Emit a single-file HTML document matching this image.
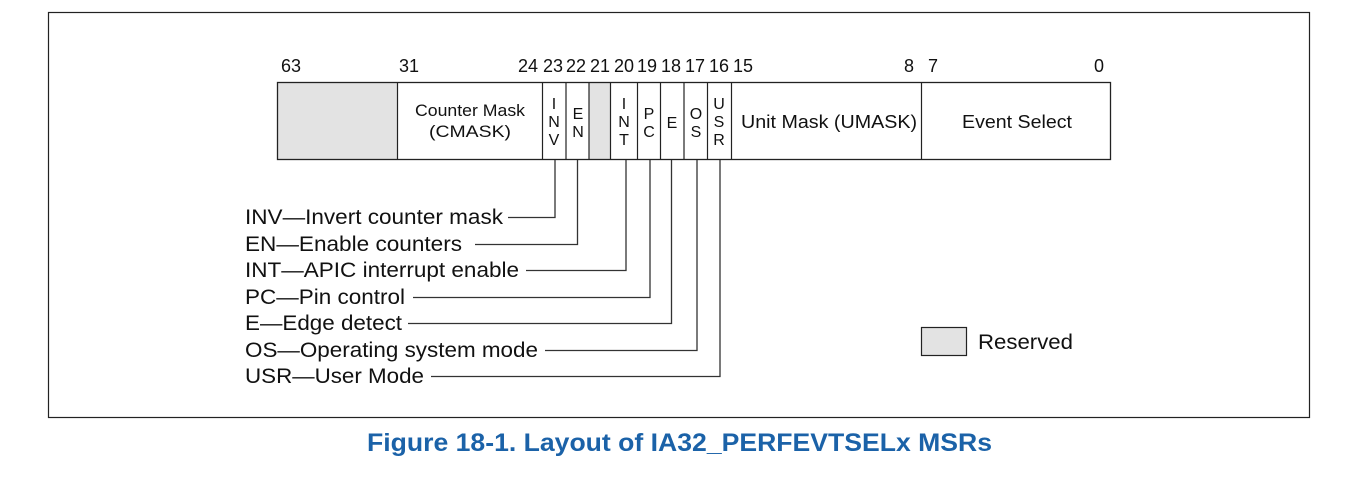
<!DOCTYPE html>
<html><head><style>
body{margin:0;background:#fff;}
svg text{font-family:"Liberation Sans",sans-serif;fill:#111;}
</style></head><body>
<svg width="1358" height="477" xmlns="http://www.w3.org/2000/svg">
<rect x="48.5" y="12.5" width="1261" height="405" fill="none" stroke="#222" stroke-width="1.2"/>
<rect x="277.5" y="82.5" width="120" height="77" fill="#e3e3e3"/>
<rect x="589" y="82.5" width="21" height="77" fill="#e3e3e3"/>
<rect x="277.5" y="82.5" width="833" height="77" fill="none" stroke="#222" stroke-width="1.3"/>
<g stroke="#222" stroke-width="1.2">
<line x1="397.5" y1="82" x2="397.5" y2="160"/>
<line x1="542.5" y1="82" x2="542.5" y2="160"/>
<line x1="566" y1="82" x2="566" y2="160"/>
<line x1="589" y1="82" x2="589" y2="160"/>
<line x1="610.5" y1="82" x2="610.5" y2="160"/>
<line x1="637.5" y1="82" x2="637.5" y2="160"/>
<line x1="660.5" y1="82" x2="660.5" y2="160"/>
<line x1="684" y1="82" x2="684" y2="160"/>
<line x1="707.5" y1="82" x2="707.5" y2="160"/>
<line x1="731.5" y1="82" x2="731.5" y2="160"/>
<line x1="921.5" y1="82" x2="921.5" y2="160"/>
</g>
<g font-size="18" text-anchor="middle">
<text x="291" y="72">63</text><text x="409" y="72">31</text>
<text x="528" y="72">24</text><text x="553" y="72">23</text><text x="576" y="72">22</text>
<text x="600" y="72">21</text><text x="624" y="72">20</text><text x="647" y="72">19</text>
<text x="671" y="72">18</text><text x="695" y="72">17</text><text x="719" y="72">16</text>
<text x="743" y="72">15</text><text x="909" y="72">8</text><text x="933" y="72">7</text>
<text x="1099" y="72">0</text>
</g>
<g font-size="18" text-anchor="middle">
<text x="470" y="116" font-size="17" textLength="110" lengthAdjust="spacingAndGlyphs">Counter Mask</text>
<text x="470" y="137" font-size="17" textLength="82" lengthAdjust="spacingAndGlyphs">(CMASK)</text>
<text x="829" y="128" textLength="176" lengthAdjust="spacingAndGlyphs">Unit Mask (UMASK)</text>
<text x="1017" y="128" textLength="110" lengthAdjust="spacingAndGlyphs">Event Select</text>
</g>
<g font-size="16" text-anchor="middle">
<text x="554" y="109">I</text><text x="554" y="127">N</text><text x="554" y="145">V</text>
<text x="578" y="119">E</text><text x="578" y="137">N</text>
<text x="624" y="109">I</text><text x="624" y="127">N</text><text x="624" y="145">T</text>
<text x="649" y="119">P</text><text x="649" y="137">C</text>
<text x="672" y="128">E</text>
<text x="696" y="119">O</text><text x="696" y="137">S</text>
<text x="719" y="109">U</text><text x="719" y="127">S</text><text x="719" y="145">R</text>
</g>
<g stroke="#333" stroke-width="1.3" fill="none">
<polyline points="508,217.5 555,217.5 555,160"/>
<polyline points="475,244.5 577.5,244.5 577.5,160"/>
<polyline points="526,270.5 626,270.5 626,160"/>
<polyline points="413,297.5 650,297.5 650,160"/>
<polyline points="408,323.5 671.5,323.5 671.5,160"/>
<polyline points="545,350.5 697,350.5 697,160"/>
<polyline points="431,376.5 720,376.5 720,160"/>
</g>
<g font-size="21">
<text x="245" y="224" textLength="258" lengthAdjust="spacingAndGlyphs">INV—Invert counter mask</text>
<text x="245" y="251" textLength="217" lengthAdjust="spacingAndGlyphs">EN—Enable counters</text>
<text x="245" y="277" textLength="274" lengthAdjust="spacingAndGlyphs">INT—APIC interrupt enable</text>
<text x="245" y="304" textLength="160" lengthAdjust="spacingAndGlyphs">PC—Pin control</text>
<text x="245" y="330" textLength="157" lengthAdjust="spacingAndGlyphs">E—Edge detect</text>
<text x="245" y="357" textLength="293" lengthAdjust="spacingAndGlyphs">OS—Operating system mode</text>
<text x="245" y="383" textLength="179" lengthAdjust="spacingAndGlyphs">USR—User Mode</text>
</g>
<rect x="921.5" y="327.5" width="45" height="28" fill="#e3e3e3" stroke="#222" stroke-width="1.2"/>
<text x="978" y="349" font-size="21" textLength="95" lengthAdjust="spacingAndGlyphs">Reserved</text>
<text x="367" y="451" font-size="25" font-weight="bold" textLength="625" lengthAdjust="spacingAndGlyphs" style="fill:#1b62a8">Figure 18-1.  Layout of IA32_PERFEVTSELx MSRs</text>
</svg>
</body></html>
